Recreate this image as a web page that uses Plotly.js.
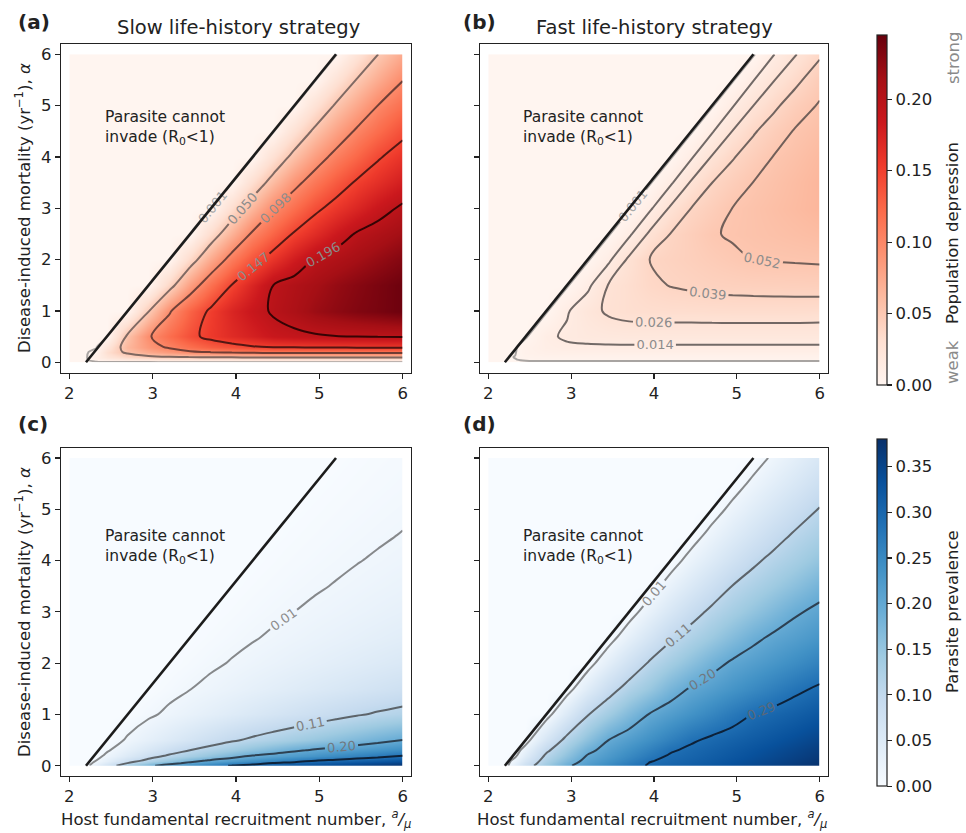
<!DOCTYPE html>
<html>
<head>
<meta charset="utf-8">
<script src="https://cdn.plot.ly/plotly-3.0.1.min.js"></script>
<style>html,body{margin:0;padding:0;background:#fff;}#chart{width:966px;height:833px;}</style>
</head>
<body>
<div id="chart"></div>
<script>
// ---------- grid (host recruitment a/mu on x, disease mortality alpha on y) ----------
const recruitment = [2.0, 2.2, 2.325, 2.45, 2.7, 2.95, 3.2, 3.45, 3.7, 3.95, 4.2, 4.45, 4.7, 4.95, 5.2, 5.45, 5.7, 6.0];
const mortality = [0, 0.05, 0.1, 0.2, 0.3, 0.5, 1.0, 1.5, 2.0, 2.5, 3.0, 3.5, 4.0, 4.5, 5.0, 5.5, 6.0];

// each inner array = one mortality row, values listed along recruitment
const slowDepression = [
  [0,0,0,0,0,0,0,0,0,0,0,0,0,0,0,0,0,0],
  [0,0,0.006,0.012,0.02,0.022,0.024,0.025,0.026,0.026,0.027,0.027,0.027,0.027,0.027,0.028,0.028,0.028],
  [0,0,0.009,0.022,0.036,0.043,0.048,0.05,0.051,0.052,0.053,0.054,0.054,0.055,0.055,0.055,0.055,0.055],
  [0,0,0.004,0.031,0.056,0.073,0.085,0.095,0.1,0.104,0.107,0.11,0.11,0.11,0.11,0.11,0.11,0.11],
  [0,0,0,0.022,0.064,0.087,0.103,0.118,0.13,0.138,0.145,0.15,0.151,0.152,0.153,0.154,0.155,0.155],
  [0,0,0,0,0.055,0.095,0.119,0.14,0.155,0.167,0.176,0.186,0.19,0.193,0.195,0.196,0.197,0.198],
  [0,0,0,0,0,0.048,0.095,0.127,0.152,0.172,0.186,0.199,0.208,0.219,0.226,0.232,0.236,0.242],
  [0,0,0,0,0,0,0.0383,0.0822,0.118,0.148,0.172,0.196,0.205,0.213,0.222,0.229,0.235,0.242],
  [0,0,0,0,0,0,0,0.0361,0.0748,0.1094,0.1363,0.1593,0.1797,0.1976,0.2055,0.2135,0.2214,0.231],
  [0,0,0,0,0,0,0,0,0.0342,0.0691,0.1025,0.1267,0.1497,0.1665,0.1832,0.198,0.2062,0.216],
  [0,0,0,0,0,0,0,0,0,0.0324,0.0646,0.0965,0.1189,0.1409,0.1571,0.1712,0.1853,0.2],
  [0,0,0,0,0,0,0,0,0,0,0.0307,0.0608,0.0899,0.1125,0.1325,0.1504,0.1627,0.178],
  [0,0,0,0,0,0,0,0,0,0,0,0.0293,0.0578,0.0844,0.107,0.1255,0.144,0.16],
  [0,0,0,0,0,0,0,0,0,0,0,0,0.028,0.0552,0.0797,0.1023,0.1195,0.1401],
  [0,0,0,0,0,0,0,0,0,0,0,0,0,0.0267,0.0529,0.0757,0.0984,0.118],
  [0,0,0,0,0,0,0,0,0,0,0,0,0,0,0.0256,0.051,0.0722,0.0975],
  [0,0,0,0,0,0,0,0,0,0,0,0,0,0,0,0.0246,0.0492,0.0734]
];

const fastDepression = [
  [0,0,0,0,0,0,0,0,0,0,0,0,0,0,0,0,0,0],
  [0,0,0.0008,0.0018,0.002,0.002,0.002,0.002,0.002,0.002,0.002,0.002,0.002,0.002,0.002,0.002,0.002,0.002],
  [0,0,0.0012,0.0034,0.004,0.004,0.004,0.004,0.004,0.004,0.004,0.004,0.004,0.004,0.004,0.004,0.004,0.004],
  [0,0,0.0006,0.0052,0.0075,0.008,0.008,0.008,0.008,0.008,0.008,0.008,0.008,0.008,0.008,0.008,0.008,0.008],
  [0,0,0,0.005,0.0098,0.0115,0.012,0.0123,0.0123,0.0123,0.0123,0.0123,0.0123,0.0123,0.0123,0.0123,0.0123,0.0123],
  [0,0,0,0,0.011,0.0158,0.0178,0.0185,0.019,0.019,0.019,0.019,0.019,0.019,0.019,0.019,0.019,0.019],
  [0,0,0,0,0,0.0125,0.0215,0.0285,0.0315,0.0322,0.0325,0.0325,0.0328,0.033,0.033,0.033,0.033,0.0325],
  [0,0,0,0,0,0,0.0108,0.027,0.032,0.037,0.0395,0.041,0.0425,0.043,0.0435,0.0438,0.044,0.0445],
  [0,0,0,0,0,0,0,0.011,0.029,0.0392,0.0418,0.0443,0.0469,0.0494,0.052,0.0525,0.053,0.0535],
  [0,0,0,0,0,0,0,0,0.0113,0.0287,0.0394,0.0451,0.0507,0.0532,0.0548,0.0563,0.0579,0.0598],
  [0,0,0,0,0,0,0,0,0,0.0116,0.0282,0.0393,0.0456,0.052,0.055,0.058,0.0609,0.0645],
  [0,0,0,0,0,0,0,0,0,0,0.0118,0.0278,0.039,0.0455,0.052,0.0559,0.0598,0.0645],
  [0,0,0,0,0,0,0,0,0,0,0,0.0122,0.0273,0.0381,0.0455,0.0524,0.0567,0.062],
  [0,0,0,0,0,0,0,0,0,0,0,0,0.0125,0.0269,0.0377,0.0457,0.0527,0.0578],
  [0,0,0,0,0,0,0,0,0,0,0,0,0,0.0128,0.0264,0.0366,0.0455,0.053],
  [0,0,0,0,0,0,0,0,0,0,0,0,0,0,0.0132,0.026,0.0356,0.047],
  [0,0,0,0,0,0,0,0,0,0,0,0,0,0,0,0.0135,0.0255,0.037]
];

const slowPrevalence = [
  [0,0,0.04,0.0784,0.138,0.188,0.2194,0.2461,0.2729,0.2937,0.304,0.3143,0.3245,0.3348,0.3451,0.3554,0.3657,0.378],
  [0,0,0.0239,0.052,0.1075,0.1452,0.1829,0.2104,0.2312,0.2519,0.2726,0.2916,0.3019,0.3122,0.3225,0.3328,0.343,0.3554],
  [0,0,0.0145,0.0367,0.0811,0.1193,0.1496,0.1799,0.2048,0.2217,0.2386,0.2555,0.2724,0.2893,0.2999,0.3101,0.3204,0.3328],
  [0,0,0.0034,0.0198,0.051,0.0823,0.1112,0.1329,0.1546,0.1763,0.198,0.2104,0.2228,0.2351,0.2475,0.2599,0.2722,0.2871],
  [0,0,0,0.0103,0.0346,0.0587,0.0828,0.1067,0.1236,0.1405,0.1574,0.1743,0.1912,0.2039,0.2136,0.2234,0.2331,0.2448],
  [0,0,0,0,0.0173,0.0339,0.0504,0.067,0.0835,0.1001,0.1135,0.1252,0.1369,0.1487,0.1604,0.1721,0.1839,0.198],
  [0,0,0,0,0,0.0097,0.0192,0.0285,0.0377,0.047,0.0563,0.0656,0.0748,0.0841,0.0934,0.1027,0.1103,0.1182],
  [0,0,0,0,0,0,0.0067,0.0135,0.0199,0.0264,0.0328,0.0393,0.0457,0.0522,0.0586,0.0651,0.0715,0.0793],
  [0,0,0,0,0,0,0,0.0051,0.0103,0.0154,0.0203,0.0252,0.0302,0.0351,0.04,0.0449,0.0499,0.0558],
  [0,0,0,0,0,0,0,0,0.0042,0.0083,0.0125,0.0166,0.0206,0.0246,0.0286,0.0326,0.0366,0.0414],
  [0,0,0,0,0,0,0,0,0,0.0035,0.007,0.0105,0.014,0.0174,0.0207,0.0241,0.0275,0.0315],
  [0,0,0,0,0,0,0,0,0,0,0.003,0.006,0.0091,0.0121,0.015,0.0179,0.0208,0.0243],
  [0,0,0,0,0,0,0,0,0,0,0,0.0027,0.0053,0.008,0.0106,0.0133,0.0158,0.0189],
  [0,0,0,0,0,0,0,0,0,0,0,0,0.0024,0.0047,0.0071,0.0095,0.0118,0.0146],
  [0,0,0,0,0,0,0,0,0,0,0,0,0,0.0021,0.0043,0.0064,0.0085,0.0111],
  [0,0,0,0,0,0,0,0,0,0,0,0,0,0,0.0019,0.0039,0.0058,0.0082],
  [0,0,0,0,0,0,0,0,0,0,0,0,0,0,0,0.0018,0.0036,0.0057]
];

const fastPrevalence = [
  [0,0,0.0411,0.0818,0.141,0.1906,0.2208,0.2476,0.2744,0.2943,0.3045,0.3147,0.3249,0.3351,0.3453,0.3555,0.3658,0.378],
  [0,0,0.032,0.0716,0.1334,0.1819,0.2154,0.2416,0.2678,0.2916,0.3018,0.312,0.3222,0.3324,0.3426,0.3528,0.363,0.3753],
  [0,0,0.0235,0.062,0.1263,0.1735,0.2103,0.2359,0.2615,0.2871,0.2991,0.3093,0.3195,0.3297,0.3399,0.3501,0.3603,0.3726],
  [0,0,0.0076,0.0443,0.1129,0.1579,0.2007,0.2252,0.2497,0.2742,0.2936,0.3038,0.314,0.3242,0.3344,0.3446,0.3548,0.3671],
  [0,0,0,0.0283,0.0975,0.1437,0.1867,0.2153,0.2388,0.2623,0.2857,0.2984,0.3086,0.3188,0.329,0.3392,0.3494,0.3617],
  [0,0,0,0,0.0637,0.1189,0.1584,0.1978,0.2196,0.2413,0.263,0.2847,0.2977,0.3079,0.3181,0.3283,0.3385,0.3508],
  [0,0,0,0,0,0.0523,0.1035,0.1371,0.1698,0.2005,0.2187,0.237,0.2552,0.2734,0.2909,0.3011,0.3113,0.3236],
  [0,0,0,0,0,0,0.0444,0.0876,0.122,0.148,0.1779,0.2024,0.2181,0.2338,0.2495,0.2652,0.2809,0.2963],
  [0,0,0,0,0,0,0,0.0387,0.076,0.1108,0.1352,0.1596,0.184,0.2039,0.2177,0.2315,0.2453,0.2618],
  [0,0,0,0,0,0,0,0,0.0343,0.0672,0.1001,0.1238,0.1454,0.167,0.1887,0.205,0.2173,0.232],
  [0,0,0,0,0,0,0,0,0,0.0309,0.0603,0.0897,0.1147,0.1341,0.1535,0.1729,0.1924,0.2081],
  [0,0,0,0,0,0,0,0,0,0,0.0281,0.0547,0.0813,0.1072,0.1248,0.1425,0.1601,0.1812],
  [0,0,0,0,0,0,0,0,0,0,0,0.0259,0.0501,0.0743,0.0985,0.1172,0.1333,0.1527],
  [0,0,0,0,0,0,0,0,0,0,0,0,0.024,0.0462,0.0685,0.0908,0.1107,0.1286],
  [0,0,0,0,0,0,0,0,0,0,0,0,0,0.0223,0.0429,0.0635,0.0841,0.1079],
  [0,0,0,0,0,0,0,0,0,0,0,0,0,0,0.0209,0.0401,0.0593,0.0823],
  [0,0,0,0,0,0,0,0,0,0,0,0,0,0,0,0.0197,0.0376,0.0591]
];

// contour levels
const slowDepressionLevels = [0.001, 0.0497, 0.0984, 0.1471, 0.1958];
const fastDepressionLevels = [0.001, 0.0137, 0.0264, 0.0391, 0.0518];
const prevalenceLevels = [0.014, 0.106, 0.198, 0.29];

// R0 = 1 boundary
const r0BoundaryX = [2.2, 5.2];
const r0BoundaryY = [0, 6];

// ticks
const recruitmentTicks = [2, 3, 4, 5, 6];
const mortalityTicks = [0, 1, 2, 3, 4, 5, 6];
const depressionTicks = [0, 0.05, 0.10, 0.15, 0.20];
const prevalenceTicks = [0, 0.05, 0.10, 0.15, 0.20, 0.25, 0.30, 0.35];
const depressionMax = 0.245;
const prevalenceMax = 0.38;

// ---------- styles ----------
const FONT = 'DejaVu Sans, Verdana, sans-serif';
const INK = '#222222';
const W = 966, H = 833;
const redsScale = [[0,'#fff5f0'],[0.125,'#fee0d2'],[0.25,'#fcbba1'],[0.375,'#fc9272'],[0.5,'#fb6a4a'],[0.625,'#ef3b2c'],[0.75,'#cb181d'],[0.875,'#a50f15'],[1,'#67000d']];
const bluesScale = [[0,'#f7fbff'],[0.125,'#deebf7'],[0.25,'#c6dbef'],[0.375,'#9ecae1'],[0.5,'#6baed6'],[0.625,'#4292c6'],[0.75,'#2171b5'],[0.875,'#08519c'],[1,'#08306b']];
const slowLineColors = ['rgba(110,110,110,0.6)','rgba(70,60,60,0.68)','rgba(60,35,35,0.72)','rgba(40,12,12,0.78)','rgba(25,0,0,0.82)'];
const fastLineColors = ['rgba(110,110,110,0.6)','rgba(60,55,55,0.72)','rgba(60,55,55,0.72)','rgba(60,55,55,0.72)','rgba(60,55,55,0.72)'];
const prevLineColors = ['rgba(70,70,70,0.62)','rgba(55,55,55,0.72)','rgba(30,35,45,0.78)','rgba(10,20,35,0.85)'];
const depLabelColors = ['#a8a8a8','#8c8c8c','#8c8c8c','#8c8c8c','#8c8c8c'];
const prevLabelColors = ['#8c8c8c','#808080','#707880','#5a6878'];

const panels = [
  {z: slowDepression, xa: 'x',  ya: 'y',  scale: redsScale,  zmax: depressionMax, levels: slowDepressionLevels, colors: slowLineColors, labels: depLabelColors, fmt: '.3f', bar: 'dep'},
  {z: fastDepression, xa: 'x2', ya: 'y2', scale: redsScale,  zmax: depressionMax, levels: fastDepressionLevels, colors: fastLineColors, labels: depLabelColors, fmt: '.3f', bar: null},
  {z: slowPrevalence, xa: 'x3', ya: 'y3', scale: bluesScale, zmax: prevalenceMax, levels: prevalenceLevels, colors: prevLineColors, labels: prevLabelColors, fmt: '.2f', bar: 'prev'},
  {z: fastPrevalence, xa: 'x4', ya: 'y4', scale: bluesScale, zmax: prevalenceMax, levels: prevalenceLevels, colors: prevLineColors, labels: prevLabelColors, fmt: '.2f', bar: null}
];

function colorbarFor(kind) {
  const common = {
    x: 877 / W, xanchor: 'left', xpad: 0, ypad: 0, yanchor: 'middle',
    thickness: 10, thicknessmode: 'pixels', lenmode: 'fraction',
    outlinecolor: INK, outlinewidth: 1.2,
    ticks: 'outside', ticklen: 5, tickwidth: 1.2, tickcolor: INK,
    tickformat: '.2f', tickfont: {family: FONT, size: 16.5, color: INK}
  };
  if (kind === 'dep') return Object.assign(common, {y: 1 - 210 / H, len: 350 / H, tickvals: depressionTicks});
  return Object.assign(common, {y: 1 - 612.7 / H, len: 346.7 / H, tickvals: prevalenceTicks});
}

const traces = [];
panels.forEach(p => {
  traces.push({
    type: 'contour', x: recruitment, y: mortality, z: p.z,
    xaxis: p.xa, yaxis: p.ya, colorscale: p.scale, zmin: 0, zmax: p.zmax, zauto: false,
    autocontour: false,
    contours: {coloring: 'heatmap', showlines: false, start: p.levels[0], end: p.levels[p.levels.length - 1], size: p.levels[1] - p.levels[0]},
    line: {width: 0},
    showscale: !!p.bar, colorbar: p.bar ? colorbarFor(p.bar) : undefined,
    hoverinfo: 'skip'
  });
  p.levels.forEach((lv, i) => {
    traces.push({
      type: 'contour', x: recruitment, y: mortality, z: p.z,
      xaxis: p.xa, yaxis: p.ya, autocontour: false, showscale: false,
      contours: {coloring: 'none', start: lv, end: lv, size: 1, showlabels: true,
        labelformat: p.fmt, labelfont: {family: FONT, size: 13, color: p.labels[i]}},
      line: {color: p.colors[i], width: 2, smoothing: 1},
      hoverinfo: 'skip'
    });
  });
  traces.push({
    type: 'scatter', mode: 'lines', x: r0BoundaryX, y: r0BoundaryY,
    xaxis: p.xa, yaxis: p.ya, line: {color: '#1c1c1c', width: 2.6},
    hoverinfo: 'skip', showlegend: false
  });
});

function xAxis(domain, anchor) {
  return {domain, anchor, range: [1.9, 6.1], tickvals: recruitmentTicks, ticks: 'outside', ticklen: 5,
    tickwidth: 1.2, tickcolor: INK, showline: true, mirror: true, linecolor: INK, linewidth: 1.2,
    showgrid: false, zeroline: false, tickfont: {family: FONT, size: 16.5, color: INK}, fixedrange: true};
}
function yAxis(domain, anchor, labels) {
  return {domain, anchor, range: [-0.2, 6.2], tickvals: mortalityTicks, ticks: 'outside', ticklen: 5,
    tickwidth: 1.2, tickcolor: INK, showline: true, mirror: true, linecolor: INK, linewidth: 1.2,
    showgrid: false, zeroline: false, showticklabels: labels,
    tickfont: {family: FONT, size: 16.5, color: INK}, fixedrange: true};
}

const leftDom = [61 / W, 411 / W], rightDom = [480 / W, 828 / W];
const topDom = [1 - 372.5 / H, 1 - 44 / H], botDom = [1 - 776 / H, 1 - 447.7 / H];

function paperText(text, px, py, opts) {
  return Object.assign({xref: 'paper', yref: 'paper', x: px / W, y: 1 - py / H, text, showarrow: false,
    xanchor: 'center', yanchor: 'middle', font: {family: FONT, size: 16.5, color: INK}}, opts || {});
}
const invadeText = 'Parasite cannot<br>invade (R<sub>0</sub>&lt;1)';
function invade(xref, yref, yv) {
  return {xref, yref, x: 2.4, y: yv, text: invadeText, showarrow: false, xanchor: 'left', yanchor: 'middle',
    align: 'left', font: {family: FONT, size: 15.5, color: INK}};
}
const yTitle = 'Disease-induced mortality (yr<sup>−1</sup>), <i>α</i>';
const xTitle = 'Host fundamental recruitment number, <i><sup>a</sup>/<sub>μ</sub></i>';

const annotations = [
  paperText('Slow life-history strategy', 238, 28, {font: {family: FONT, size: 19.5, color: INK}}),
  paperText('Fast life-history strategy', 654, 28, {font: {family: FONT, size: 19.5, color: INK}}),
  paperText('<b>(a)</b>', 16, 22, {xanchor: 'left', font: {family: FONT, size: 20, color: INK}}),
  paperText('<b>(b)</b>', 461, 22, {xanchor: 'left', font: {family: FONT, size: 20, color: INK}}),
  paperText('<b>(c)</b>', 16, 424, {xanchor: 'left', font: {family: FONT, size: 20, color: INK}}),
  paperText('<b>(d)</b>', 461, 424, {xanchor: 'left', font: {family: FONT, size: 20, color: INK}}),
  paperText(yTitle, 23, 208, {textangle: -90}),
  paperText(yTitle, 23, 612, {textangle: -90}),
  paperText(xTitle, 236, 819),
  paperText(xTitle, 652, 819),
  paperText('Population depression', 953, 233, {textangle: -90}),
  paperText('strong', 953, 58, {textangle: -90, font: {family: FONT, size: 16.5, color: '#8a8a8a'}}),
  paperText('weak', 953, 362, {textangle: -90, font: {family: FONT, size: 16.5, color: '#8a8a8a'}}),
  paperText('Parasite prevalence', 952, 612, {textangle: -90}),
  invade('x', 'y', 4.56),
  invade('x2', 'y2', 4.56),
  invade('x3', 'y3', 4.27),
  invade('x4', 'y4', 4.27)
];

const layout = {
  width: W, height: H, margin: {l: 0, r: 0, t: 0, b: 0},
  paper_bgcolor: '#ffffff', plot_bgcolor: '#ffffff', showlegend: false,
  font: {family: FONT, size: 16.5, color: INK},
  xaxis: xAxis(leftDom, 'y'), yaxis: yAxis(topDom, 'x', true),
  xaxis2: xAxis(rightDom, 'y2'), yaxis2: yAxis(topDom, 'x2', false),
  xaxis3: xAxis(leftDom, 'y3'), yaxis3: yAxis(botDom, 'x3', true),
  xaxis4: xAxis(rightDom, 'y4'), yaxis4: yAxis(botDom, 'x4', false),
  annotations
};

Plotly.newPlot('chart', traces, layout, {displayModeBar: false, staticPlot: true});
</script>
</body>
</html>
